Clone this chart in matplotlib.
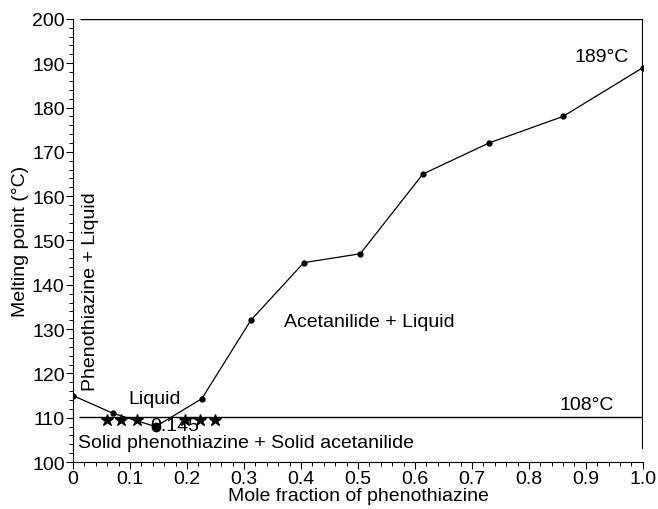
import matplotlib.pyplot as plt
from matplotlib.ticker import MultipleLocator

plt.rcParams['font.family'] = ['Liberation Sans', 'DejaVu Sans']

# curva de fusion
fraccion = [0.0, 0.07, 0.145, 0.226, 0.312, 0.405, 0.504, 0.614, 0.730, 0.860, 1.0]
temperatura = [115, 111, 108, 114.3, 132, 145, 147, 165, 172, 178, 189]

# puntos del eutectico (estrellas)
estrellas_x = [0.06, 0.085, 0.112, 0.196, 0.223, 0.249]
estrellas_y = [109.6, 109.6, 109.6, 109.6, 109.6, 109.6]

eutectico = 110.2
minimo_x = 0.145
minimo_y = 108

xticks = [0, 0.1, 0.2, 0.3, 0.4, 0.5, 0.6, 0.7, 0.8, 0.9, 1.0]
xtick_labels = ['0', '0.1', '0.2', '0.3', '0.4', '0.5', '0.6', '0.7', '0.8', '0.9', '1.0']
yticks = [100, 110, 120, 130, 140, 150, 160, 170, 180, 190, 200]

fig = plt.figure(figsize=(6.58, 5.10), dpi=100)
ax = fig.add_axes([0.111, 0.092, 0.866, 0.869])

ax.plot(fraccion, temperatura, color='black', lw=0.9, marker='o', markersize=3.5, zorder=3)
ax.plot([minimo_x], [minimo_y], 'o', color='black', markersize=6, zorder=4)
ax.plot(estrellas_x, estrellas_y, '*', color='black', markersize=9, zorder=4)

ax.hlines(eutectico, 0.01, 1.0, color='black', lw=1.0)
ax.hlines(200, 0.012, 1.0, color='black', lw=1.0)
ax.vlines(1.0, 103, 200, color='black', lw=1.5)

ax.set_xlim(0, 1.0)
ax.set_ylim(100, 200)
for lado in ['top', 'right']:
    ax.spines[lado].set_visible(False)
ax.spines['left'].set_linewidth(0.8)
ax.spines['bottom'].set_linewidth(0.8)

ax.set_xticks(xticks)
ax.set_xticklabels(xtick_labels)
ax.set_yticks(yticks)
ax.xaxis.set_minor_locator(MultipleLocator(0.02))
ax.yaxis.set_minor_locator(MultipleLocator(2))
ax.tick_params(which='major', direction='out', length=5, width=0.8, labelsize=14, pad=1)
ax.tick_params(which='minor', direction='out', length=3, width=0.7)

ax.set_xlabel('Mole fraction of phenothiazine', fontsize=14, labelpad=0)
ax.set_ylabel('Melting point (°C)', fontsize=14, labelpad=2)

ax.text(0.88, 191.5, '189°C', fontsize=14, va='center')
ax.text(0.853, 113, '108°C', fontsize=14, va='center')
ax.text(0.37, 131.8, 'Acetanilide + Liquid', fontsize=14, va='center')
ax.text(0.097, 114.4, 'Liquid', fontsize=14, va='center')
ax.text(0.135, 108.3, '0.145', fontsize=14, va='center')
ax.text(0.009, 104.5, 'Solid phenothiazine + Solid acetanilide', fontsize=14, va='center')
ax.text(0.03, 116.3, 'Phenothiazine + Liquid', fontsize=14, rotation=90, ha='center', va='bottom')

fig.savefig('out.png', dpi=100)
